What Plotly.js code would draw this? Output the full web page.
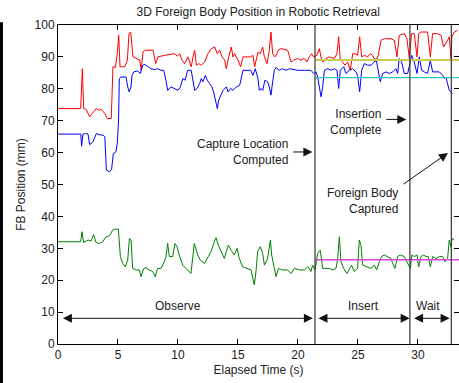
<!DOCTYPE html>
<html>
<head>
<meta charset="utf-8">
<script src="https://cdn.plot.ly/plotly-3.0.1.min.js"></script>
<style>html,body{margin:0;padding:0;background:#fff;}#chart{width:459px;height:383px;}</style>
</head>
<body>
<div id="chart"></div>
<script>
// Elapsed time (s) and positions (mm)
const redT = [0,1.89,2.03,2.14,2.36,2.64,2.86,3.19,3.39,3.61,3.89,4.11,4.44,4.58,4.78,4.94,5.06,5.17,5.56,5.78,5.92,6.06,6.25,6.53,6.81,6.94,7.08,7.28,7.92,8.14,8.33,8.89,9.44,9.72,9.94,10.14,10.33,10.56,10.83,11.11,11.25,11.39,11.53,11.72,11.94,12.22,12.5,12.78,13.06,13.28,13.47,13.67,13.89,14.03,14.17,14.31,14.44,14.58,14.72,15,15.22,15.42,15.69,16.06,16.25,16.39,16.67,16.86,17.06,17.2,17.42,17.61,17.75,17.89,18.08,18.25,18.36,18.58,19.14,19.42,19.64,19.97,20.25,20.53,20.75,20.94,21.14,21.31,21.58,21.78,21.92,22.08,22.33,22.61,23.03,23.25,23.39,23.53,23.72,23.92,24.14,24.36,24.56,24.75,24.97,25.14,25.31,25.53,25.81,26.03,26.22,26.5,26.69,26.92,27.2,27.75,28.03,28.25,28.44,28.86,29.08,29.28,29.47,29.69,29.92,30.06,30.25,30.8,31.03,31.22,31.64,31.92,32.14,32.33,32.47,32.61,32.7,32.75,32.83,33.03,33.3];
const redY = [73.8,73.8,86.3,73.8,73.5,71.2,72.3,73.8,73.3,73.5,72.3,70.7,70.7,86.9,86.7,91.0,96.8,86.9,86.9,89.0,97.3,97.8,90.0,89.5,89.0,85.8,91.6,92.1,92.1,87.9,90.0,90.5,90.8,91.0,90.2,91.0,89.0,87.9,90.0,86.9,90.0,92.1,87.4,87.9,87.4,88.4,91.0,92.6,93.1,91.0,92.1,90.0,89.0,86.3,89.0,91.0,93.1,90.0,91.0,89.0,86.9,90.0,90.0,90.0,90.5,86.9,91.5,91.0,93.1,90.0,87.9,92.1,97.8,91.0,90.0,91.0,92.1,92.6,92.1,88.4,89.0,89.5,89.0,89.5,88.4,90.0,91.0,90.0,90.5,92.6,90.0,88.4,89.5,90.0,89.5,91.0,96.3,89.0,88.4,87.4,88.4,85.8,91.0,91.0,90.5,96.3,90.0,90.5,90.0,91.0,90.5,88.4,90.5,95.2,95.7,95.7,95.2,90.0,96.8,97.3,95.7,89.5,97.3,97.3,90.0,97.3,97.8,97.8,90.0,97.3,97.3,96.8,93.1,94.2,95.2,96.3,93.1,89.5,96.3,97.8,98.3];

const blueT = [0,1.9,1.97,2.08,2.3,2.5,2.64,2.92,3.2,3.42,3.75,3.9,4.03,4.3,4.47,4.61,4.83,4.94,5.05,5.11,5.25,5.67,5.81,5.94,6.08,6.17,6.31,6.64,6.86,7.06,7.25,7.47,7.75,8.03,8.31,8.58,8.81,9.0,9.14,9.42,9.7,10.0,10.2,10.4,10.6,10.8,11.1,11.25,11.39,11.6,11.8,11.94,12.08,12.28,12.44,12.64,12.83,13.0,13.14,13.28,13.39,13.56,13.75,14.03,14.17,14.39,14.58,14.86,15.14,15.42,15.83,16.06,16.25,16.44,16.67,16.78,16.92,17.06,17.25,17.47,17.61,17.75,17.89,18.03,18.17,18.44,18.72,19.0,19.28,19.56,19.97,20.53,21.08,21.31,21.5,21.64,21.78,21.92,22.06,22.2,22.47,22.75,23.03,23.25,23.39,23.53,23.81,24.0,24.28,24.56,24.83,24.97,25.14,25.31,25.53,25.81,26.08,26.36,26.5,26.69,26.86,27.06,27.33,27.61,27.89,28.17,28.31,28.44,28.64,28.86,29.14,29.36,29.47,29.69,29.92,30.11,30.31,30.53,30.8,31.03,31.22,31.5,31.78,32.06,32.2,32.33,32.47,32.61,32.75,32.87];
const blueY = [65.8,65.8,62.0,65.8,66.0,65.8,62.5,63.4,66.0,65.6,65.5,65.0,54.5,54.0,54.8,59.7,60.2,62.8,70.2,83.2,83.7,83.7,80.6,79.0,80.6,84.2,85.3,85.6,84.8,87.4,87.6,86.9,86.3,86.0,86.3,85.8,85.8,82.7,79.5,80.6,80.1,79.5,80.6,83.2,82.7,85.8,85.8,82.7,79.5,80.1,81.6,83.2,82.2,84.2,82.7,81.6,80.6,78.5,75.9,73.8,76.4,78.0,79.5,80.6,79.0,80.1,79.5,80.6,81.1,85.8,85.8,85.8,84.2,86.3,83.2,79.5,80.1,79.5,82.7,82.2,80.6,78.0,82.2,85.8,86.7,85.8,86.3,85.8,86.3,86.0,85.8,85.8,85.8,84.8,85.3,83.7,80.6,77.5,80.6,85.8,86.3,85.8,86.3,85.8,80.1,85.8,86.9,84.8,85.8,86.3,85.3,84.2,79.0,85.8,87.9,87.4,87.4,88.4,89.5,85.8,82.2,84.8,85.3,84.8,85.3,86.3,84.8,89.5,88.4,84.8,84.8,88.4,90.5,88.4,84.8,90.0,85.8,85.3,84.8,88.9,85.3,85.3,85.3,84.2,83.2,83.7,81.6,79.5,79.0,78.5];

const greenT = [0,1.89,2.0,2.14,2.5,2.75,2.97,3.17,3.44,3.72,4.0,4.28,4.56,4.75,5.03,5.2,5.39,5.61,5.81,5.95,6.09,6.22,6.5,6.78,6.92,7.14,7.34,7.6,7.9,8.1,8.3,8.59,8.86,9.0,9.14,9.28,9.56,9.75,9.92,10.1,10.4,10.67,11.08,11.36,11.64,11.86,12.2,12.53,12.75,12.97,13.17,13.36,13.58,13.86,14.03,14.2,14.42,14.7,14.92,15.11,15.39,15.81,16.09,16.36,16.5,16.64,16.86,17.06,17.2,17.47,17.7,17.81,18.03,18.17,18.36,18.72,19.14,19.42,19.7,20.11,20.53,20.81,20.94,21.08,21.22,21.42,21.64,21.86,22.06,22.33,22.61,22.89,23.17,23.31,23.45,23.58,23.81,24.08,24.28,24.47,24.69,24.97,25.11,25.25,25.39,25.67,26.08,26.36,26.56,26.78,26.97,27.2,27.47,27.75,27.89,28.08,28.31,28.53,28.86,29.14,29.36,29.5,29.7,29.92,30.06,30.25,30.47,30.67,30.86,31.03,31.22,31.5,31.78,32.06,32.25,32.47,32.61,32.75,32.83,33.03];
const greenY = [32.05,32.05,35.2,31.8,32.6,32.3,34.3,31.8,31.5,32.05,33.6,33.9,35.7,36.0,36.0,27.4,25.3,24.2,26.3,33.1,32.6,23.7,23.2,23.2,21.1,23.7,23.9,23.2,22.7,21.1,23.7,23.7,25.8,27.4,31.5,27.4,27.4,31.5,30.5,27.9,24.7,23.7,22.1,31.5,27.9,26.3,25.3,27.4,28.9,31.5,33.3,31.0,28.9,26.8,28.9,31.0,29.4,27.9,30.0,26.8,24.2,23.7,23.2,18.5,22.7,29.0,30.5,28.4,24.7,26.8,32.6,27.9,23.7,21.1,23.7,23.2,23.2,22.1,23.7,23.2,23.2,24.2,23.7,22.7,24.7,23.2,28.4,29.4,23.7,23.7,23.7,23.2,23.7,26.8,33.6,25.8,23.7,22.1,23.7,24.7,22.7,23.7,32.6,31.0,24.7,24.2,23.7,24.7,23.2,25.8,27.4,27.9,27.4,26.8,25.3,23.7,27.4,27.9,27.4,25.3,23.7,27.9,27.4,27.9,24.2,27.4,27.9,27.4,27.4,24.2,27.4,26.8,27.4,27.4,25.8,26.8,32.6,30.5,33.1,32.6];

// Computed capture location (constant after computation)
const capT = [21.42, 33.42];
const capRed = [89.0, 89.0];
const capBlue = [83.5, 83.5];
const capGreen = [26.4, 26.4];

// Event times
const eventT = [21.42, 29.33, 32.78];

const xTicks = [0,5,10,15,20,25,30];
const yTicks = [0,10,20,30,40,50,60,70,80,90,100];

const FONT = 'Liberation Sans, Arial, sans-serif';
const TXT = '#222';

const traces = [
  {x: redT, y: redY, mode: 'lines', line: {color: '#ff0000', width: 1}},
  {x: blueT, y: blueY, mode: 'lines', line: {color: '#0000ff', width: 1}},
  {x: greenT, y: greenY, mode: 'lines', line: {color: '#008000', width: 1}},
  {x: capT, y: capRed, mode: 'lines', line: {color: '#cccc55', width: 2}},
  {x: capT, y: capBlue, mode: 'lines', line: {color: '#33c4c4', width: 1.2}},
  {x: capT, y: capGreen, mode: 'lines', line: {color: '#e040e0', width: 1.5}}
];

const shapes = eventT.map(t => ({
  type: 'line', xref: 'x', yref: 'paper', x0: t, x1: t, y0: 0, y1: 1,
  line: {color: '#333', width: 1.2}
}));
// dark strip at left edge of the image
shapes.push({type: 'rect', xref: 'paper', yref: 'paper', x0: -0.1446, x1: -0.1372, y0: -0.125, y1: 1.009,
  fillcolor: '#000', line: {width: 0}});

function label(x, y, text, xanchor) {
  return {x: x, y: y, xref: 'x', yref: 'y', text: text, showarrow: false,
    xanchor: xanchor || 'center', yanchor: 'middle', align: xanchor === 'right' ? 'right' : 'center',
    font: {family: FONT, size: 12, color: TXT}};
}
function arrow(x0, y0, x1, y1, both) {
  return {x: x1, y: y1, ax: x0, ay: y0, xref: 'x', yref: 'y', axref: 'x', ayref: 'y',
    text: '', showarrow: true, arrowhead: 2, startarrowhead: 2, arrowsize: 1.8, startarrowsize: 1.8,
    arrowwidth: 1, arrowcolor: '#111', arrowside: both ? 'end+start' : 'end', standoff: 0, startstandoff: 0};
}

const annotations = [
  label(19.31, 60.2, 'Capture Location<br>Computed', 'right'),
  arrow(19.48, 60.2, 21.2, 60.2),
  label(27.14, 69.7, 'Insertion<br>Complete', 'right'),
  arrow(27.23, 70.4, 29.03, 70.4),
  label(28.53, 44.9, 'Foreign Body<br>Captured', 'right'),
  arrow(28.67, 49.8, 32.5, 59.9),
  label(10.02, 11.9, 'Observe'),
  label(25.47, 11.9, 'Insert'),
  label(30.81, 11.9, 'Wait'),
  arrow(0.28, 8.05, 21.24, 8.05, true),
  arrow(21.58, 8.05, 29.31, 8.05, true),
  arrow(29.55, 8.05, 32.64, 8.05, true)
];

const axisCommon = {
  showline: true, linecolor: '#000', linewidth: 1, mirror: 'ticks',
  ticks: 'inside', ticklen: 5, tickcolor: '#000', tickwidth: 1,
  showgrid: false, zeroline: false,
  tickfont: {family: FONT, size: 12, color: TXT}
};

const layout = {
  width: 459, height: 383,
  margin: {l: 58, r: 0, t: 25, b: 39, pad: 0},
  paper_bgcolor: '#fff', plot_bgcolor: '#fff',
  showlegend: false,
  title: {text: '3D Foreign Body Position in Robotic Retrieval', x: 0.5625, xanchor: 'center', y: 0.97, yanchor: 'middle',
    font: {family: FONT, size: 12, color: TXT}},
  xaxis: Object.assign({}, axisCommon, {range: [0, 33.42], tickvals: xTicks, ticktext: xTicks.map(String),
    title: {text: 'Elapsed Time (s)', standoff: 4, font: {family: FONT, size: 12, color: TXT}}}),
  yaxis: Object.assign({}, axisCommon, {range: [0, 100], tickvals: yTicks, ticktext: yTicks.map(String),
    title: {text: 'FB Position (mm)', standoff: 6, font: {family: FONT, size: 12, color: TXT}}}),
  shapes: shapes,
  annotations: annotations
};

Plotly.newPlot('chart', traces, layout, {displayModeBar: false, staticPlot: true});
</script>
</body>
</html>
